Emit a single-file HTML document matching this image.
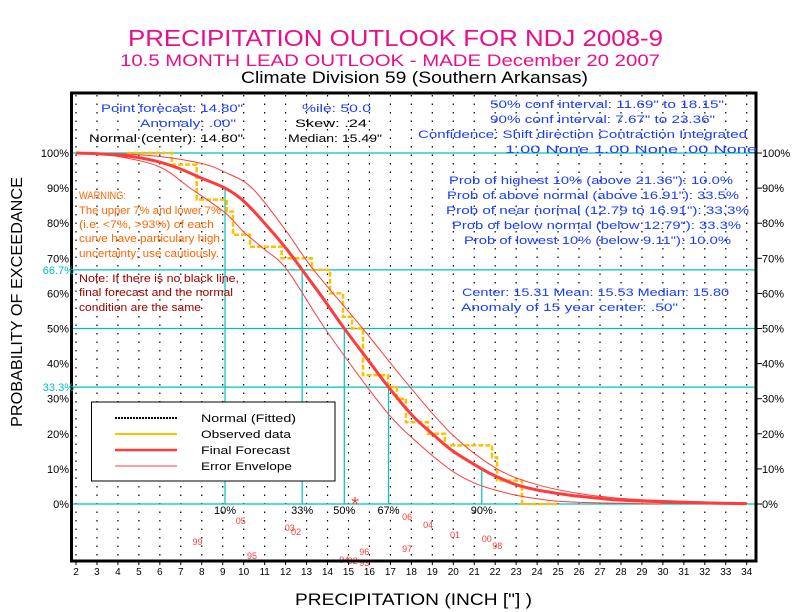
<!DOCTYPE html>
<html><head><meta charset="utf-8"><style>
html,body{margin:0;padding:0;background:#fff;}
svg{display:block;font-family:"Liberation Sans",sans-serif;}
</style></head><body>
<svg id="chart" width="792" height="612" viewBox="0 0 792 612" xmlns="http://www.w3.org/2000/svg">
<g id="titles">
<text x="128" y="46" font-size="23" fill="#e8108a" textLength="535" lengthAdjust="spacingAndGlyphs">PRECIPITATION OUTLOOK FOR NDJ 2008-9</text>
<text x="120" y="66" font-size="17" fill="#e8108a" textLength="540" lengthAdjust="spacingAndGlyphs">10.5 MONTH LEAD OUTLOOK   - MADE December 20 2007</text>
<text x="241" y="83" font-size="17" fill="#000" textLength="347" lengthAdjust="spacingAndGlyphs">Climate Division 59 (Southern Arkansas)</text>
</g>
<g id="grid"></g>
<g id="refs"></g>
<g id="series"></g>
<rect x="71.5" y="93" width="684.5" height="468" fill="none" stroke="#000" stroke-width="3"/>
<g id="axes" font-size="11"></g>
<g id="ann" font-size="11"></g>
<g>
<rect x="91.5" y="402" width="243.5" height="79" fill="#fff" stroke="#000" stroke-width="1"/>
<line x1="115" y1="418" x2="177" y2="418" stroke="#000" stroke-width="2" stroke-dasharray="2,1"/>
<text x="201" y="422" font-size="11" textLength="95" lengthAdjust="spacingAndGlyphs">Normal (Fitted)</text>
<line x1="115" y1="434" x2="177" y2="434" stroke="#ffc000" stroke-width="2"/>
<text x="201" y="438" font-size="11" textLength="90" lengthAdjust="spacingAndGlyphs">Observed data</text>
<line x1="115" y1="450" x2="177" y2="450" stroke="#ff3c3c" stroke-width="2.5"/>
<text x="201" y="454" font-size="11" textLength="89" lengthAdjust="spacingAndGlyphs">Final Forecast</text>
<line x1="115" y1="466" x2="177" y2="466" stroke="#ff3c3c" stroke-width="1"/>
<text x="201" y="470" font-size="11" textLength="91" lengthAdjust="spacingAndGlyphs">Error Envelope</text>
</g>
<text transform="translate(22,302) rotate(-90)" text-anchor="middle" font-size="16" textLength="250" lengthAdjust="spacingAndGlyphs">PROBABILITY OF EXCEEDANCE</text>
<text x="295" y="605" font-size="17" textLength="237" lengthAdjust="spacingAndGlyphs">PRECIPITATION (INCH ["] )</text>
</svg>
<script>
const xTicks = [2,3,4,5,6,7,8,9,10,11,12,13,14,15,16,17,18,19,20,21,22,23,24,25,26,27,28,29,30,31,32,33,34];
const yTicks = [0,10,20,30,40,50,60,70,80,90,100];
const fcPrecip = [2,3,4,5,6,7,8,9.11,10,11,12,12.79,13.8,14.8,16,16.91,18,19,20,21.36,22,23,24,25,26,27,28,30,32,34];
const fcProb = [100,99.8,99.4,98.7,97.4,95.4,92.8,90,86.3,80,73,66.7,58.5,50,40.5,33.3,25.5,20,15,10,8,5.5,4,3,2.2,1.6,1.1,0.6,0.3,0.1];
const upPrecip = [2,4,6,8,9.11,10.4,12,13.3,15.68,17.94,20,22.09,24,26,28,30,32,34];
const upProb = [100,99.8,99,97,94.5,90,78,67,50,33.3,19.5,10,5.5,3,1.6,1,0.6,0.3];
const loPrecip = [2,4,6,7.45,9.11,10,11,12.07,13.88,15.9,17,18,19.8,21,22,23,24,25,27,30];
const loProb = [100,99,96,90,83,77.5,72.5,66.7,50,33.3,25,19,10,6,4,2.5,1.5,0.8,0.3,0];
const obsStart = 4.42;
const obsEnd = 24.95;
const obsLevels = [100,96.7,86.7,83.3,76.7,73.3,70,66.7,60,53.3,50,36.7,33.3,30,23.3,20,16.7,13.3,6.7,0];
const obsBreaks = [6.57,7.76,9.19,9.49,10.30,11.81,13.25,14.12,14.74,15.17,15.69,16.89,17.31,17.74,18.79,19.60,21.85,22.09,23.28];
const pctLabels = ["10%","33%","50%","67%","90%"];
const pctValues = [9.11,12.79,14.80,16.91,21.36];
const pctProbs = [90,66.7,50,33.3,10];
const yearLabels = ["05","03","02","99","95","94","92","93","96","06","97","04","01","00","98"];
const yearPrecip = [9.86,12.2,12.5,7.8,10.4,14.8,15.2,15.75,15.75,17.8,17.8,18.8,20.08,21.6,22.1];
const yearRow = [16,23,27,37,51,55,56,58,47,12,44,20,30,34,41];
const forecastPoint = 15.31;

const NS = "http://www.w3.org/2000/svg";
const X = p => 76 + (p - 2) * 20.96;
const Y = v => 504 - v * 3.51;
function mk(tag, attrs, parent, txt) {
  const e = document.createElementNS(NS, tag);
  for (const k in attrs) e.setAttribute(k, attrs[k]);
  if (txt !== undefined) e.textContent = txt;
  parent.appendChild(e);
  return e;
}
const grid = document.getElementById('grid');
const refs = document.getElementById('refs');
const series = document.getElementById('series');
const axes = document.getElementById('axes');
const ann = document.getElementById('ann');

xTicks.forEach(t => {
  const l = mk('line', {x1: X(t), y1: 95, x2: X(t), y2: 560, stroke: '#000', 'stroke-width': 1.2, 'stroke-dasharray': '1.5,7'}, grid);
  
  
  const tk = mk('line', {x1: X(t), y1: 561, x2: X(t), y2: 565, stroke: '#000'}, axes);
  
  
  const tx = mk('text', {x: X(t), y: 575, 'text-anchor': 'middle', 'font-size': 10}, axes, String(t));
  
  
});
yTicks.forEach(v => {
  const a = mk('text', {x: 69, y: Y(v) + 4, 'text-anchor': 'end', 'font-size': 11}, axes, v + '%');
  
  
  const tk = mk('line', {x1: 756, y1: Y(v), x2: 762, y2: Y(v), stroke: '#000'}, axes);
  
  
  const b = mk('text', {x: 762, y: Y(v) + 4, 'font-size': 11}, axes, v + '%');
  
  
});
[66.7, 33.3].forEach(v => {
  const t = mk('text', {x: 74, y: Y(v) + 4, 'text-anchor': 'end', 'font-size': 11, fill: '#00c0c0'}, axes, v + '%');
  
  
});
[100, 66.7, 50, 33.3, 0].forEach(v => {
  const l = mk('line', {x1: 72, y1: Y(v), x2: 756, y2: Y(v), stroke: '#00c0c0', 'stroke-width': 1.2}, refs);
  
  
});
pctValues.forEach((p, i) => {
  const l = mk('line', {x1: X(p), y1: Y(pctProbs[i]), x2: X(p), y2: Y(0), stroke: '#00c0c0', 'stroke-width': 1.2}, refs);
  
  
  const t = mk('text', {x: X(p), y: 514, 'text-anchor': 'middle', 'font-size': 11}, refs, pctLabels[i]);
  
  
});

// observed staircase
let d = 'M' + X(obsStart) + ',' + Y(obsLevels[0]);
obsBreaks.forEach((b, i) => {
  d += ' L' + X(b) + ',' + Y(obsLevels[i]) + ' L' + X(b) + ',' + Y(obsLevels[i + 1]);
});
d += ' L' + X(obsEnd) + ',' + Y(obsLevels[obsLevels.length - 1]);
const obs = mk('path', {d: d, fill: 'none', stroke: '#ffc000', 'stroke-width': 2.5, 'stroke-dasharray': '5,2'}, series);



// smooth Catmull-Rom curve through data points
function curve(px, py) {
  const pts = px.map((p, i) => [X(p), Y(py[i])]);
  let s = 'M' + pts[0][0].toFixed(1) + ',' + pts[0][1].toFixed(1);
  for (let i = 0; i < pts.length - 1; i++) {
    const p0 = pts[Math.max(0, i - 1)], p1 = pts[i], p2 = pts[i + 1], p3 = pts[Math.min(pts.length - 1, i + 2)];
    const c1x = p1[0] + (p2[0] - p0[0]) / 6, c1y = p1[1] + (p2[1] - p0[1]) / 6;
    const c2x = p2[0] - (p3[0] - p1[0]) / 6, c2y = p2[1] - (p3[1] - p1[1]) / 6;
    s += ' C' + c1x.toFixed(1) + ',' + c1y.toFixed(1) + ' ' + c2x.toFixed(1) + ',' + c2y.toFixed(1) + ' ' + p2[0].toFixed(1) + ',' + p2[1].toFixed(1);
  }
  return s;
}
const up = mk('path', {d: curve(upPrecip, upProb), fill: 'none', stroke: '#ff3c3c', 'stroke-width': 1}, series);


const lo = mk('path', {d: curve(loPrecip, loProb), fill: 'none', stroke: '#ff3c3c', 'stroke-width': 1}, series);


const fc = mk('path', {d: curve(fcPrecip, fcProb), fill: 'none', stroke: '#ff3c3c', 'stroke-width': 3}, series);



const star = mk('text', {x: X(forecastPoint), y: 511, 'text-anchor': 'middle', 'font-size': 20, fill: '#ff3c3c'}, series, '*');



yearLabels.forEach((yl, i) => {
  const t = mk('text', {x: X(yearPrecip[i]), y: 504 + yearRow[i] + 4, 'text-anchor': 'middle', 'font-size': 9, fill: '#ff3c3c'}, series, yl);
  
  
});

const blue = '#1a3cff';
const lines = [
  [101, 112, 'Point forecast: 14.80"', blue, 142],
  [140, 127, 'Anomaly:  .00"', blue, 96],
  [89, 142, 'Normal (center): 14.80"', '#000', 154],
  [302, 112, '%ile:   50.0', blue, 69],
  [295, 127, 'Skew:    .24', '#000', 72],
  [288, 142, 'Median: 15.49"', '#000', 94],
  [490, 108, '50% conf interval: 11.69" to 18.15"', blue, 234],
  [490, 123, '90% conf interval: 7.67" to 23.36"', blue, 225],
  [418, 138, 'Confidence: Shift direction  Contraction  Integrated', blue, 329],
  [505, 153, '1.00 None        1.00 None    .00 None', blue, 252],
  [449, 184, 'Prob of highest 10% (above 21.36"): 10.0%', blue, 284],
  [447, 199, 'Prob of above normal (above 16.91"): 33.5%', blue, 292],
  [446, 214, 'Prob of near normal (12.79 to 16.91"): 33.3%', blue, 303],
  [452, 229, 'Prob of below normal (below 12.79"): 33.3%', blue, 289],
  [464, 244, 'Prob of lowest 10% (below 9.11"): 10.0%', blue, 267],
  [462, 296, 'Center: 15.31 Mean: 15.53 Median: 15.80', blue, 267],
  [461, 311, 'Anomaly of 15 year center:  .50"', blue, 217],
  [79, 199, 'WARNING:', '#ff6600', 47],
  [79, 214, 'The upper 7% and lower 7%', '#ff6600', 142],
  [79, 228, '(i.e. <7%, >93%) of each', '#ff6600', 135],
  [79, 242, 'curve have particulary high', '#ff6600', 141],
  [79, 257, 'uncertainty; use cautiously.', '#ff6600', 140],
  [79, 282, 'Note: If there is no black line,', '#a00000', 160],
  [79, 296, 'final forecast and the normal', '#a00000', 154],
  [79, 311, 'condition are the same', '#a00000', 122]
];
lines.forEach(l => {
  const t = mk('text', {x: l[0], y: l[1], fill: l[3], 'font-size': 11, textLength: l[4], lengthAdjust: 'spacingAndGlyphs'}, ann, l[2]);
  
  
});
</script>
</body></html>
